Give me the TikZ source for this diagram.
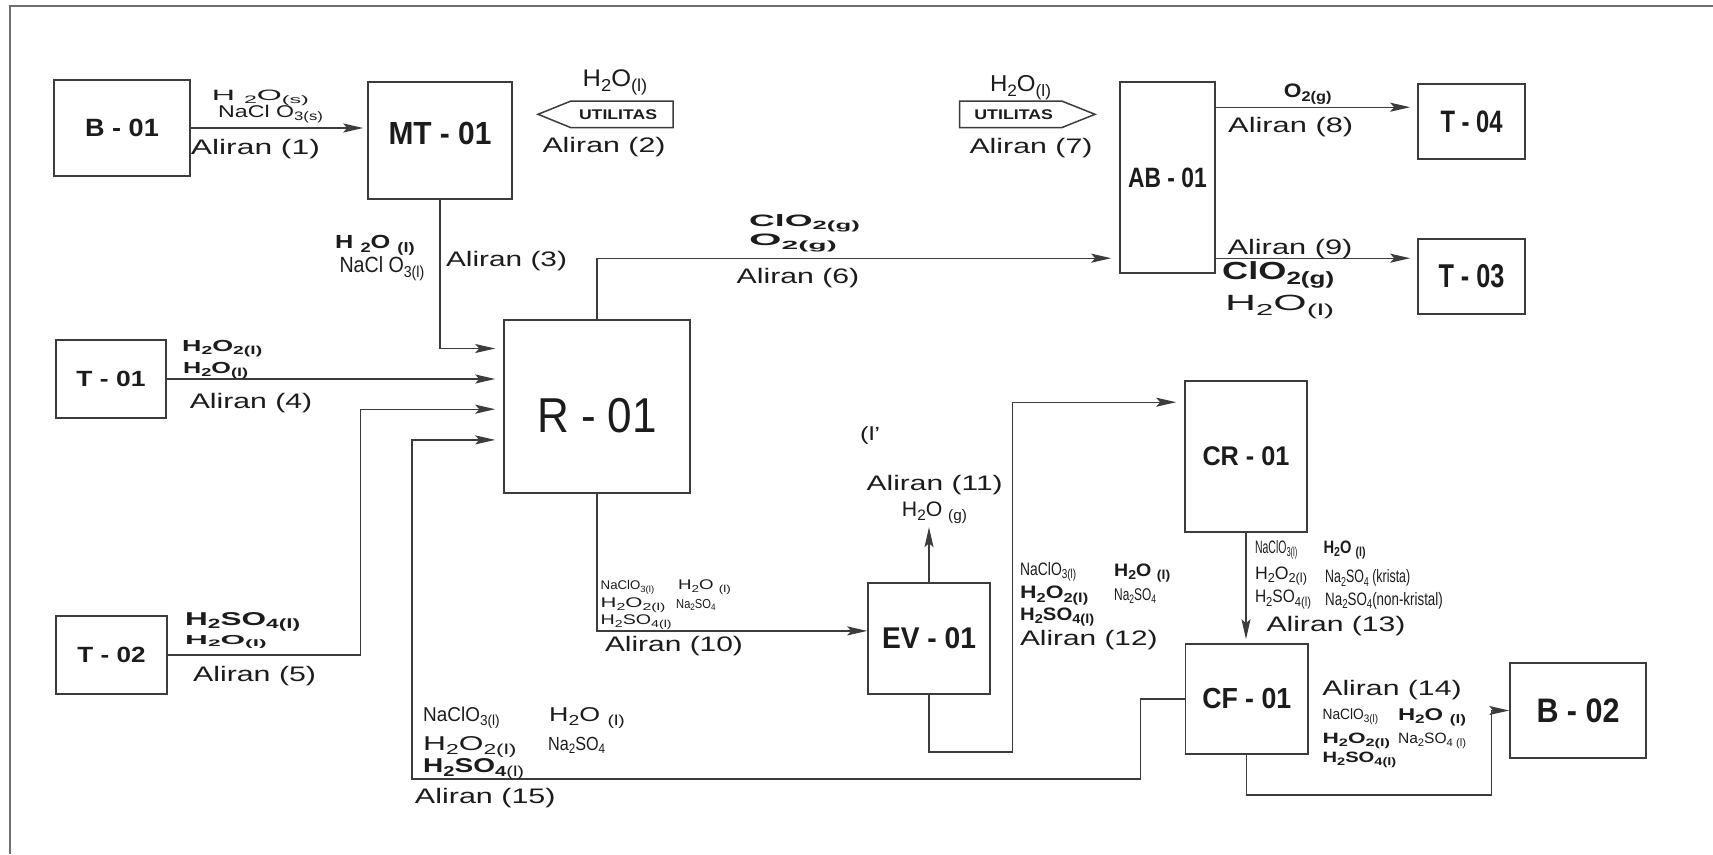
\documentclass[tikz,border=0pt]{standalone}
\usepackage{fontspec}
\setmainfont{Liberation Sans}
\usepackage{graphicx}
\usetikzlibrary{arrows.meta,calc}
\definecolor{ln}{HTML}{3C3C3C}
\definecolor{tx}{HTML}{1C1C1C}
\definecolor{fr}{HTML}{707070}
\newcommand\fsz[1]{\fontsize{#1}{#1}\selectfont}
\newcommand\fw[2]{\resizebox{#1pt}{\height}{#2}}
\newcommand\chsub[1]{\raisebox{-0.2em}{\scalebox{0.72}{#1}}}
\newcommand\lr[3]{\fsz{#1}\fw{#2}{#3}}
\newcommand\lbf[3]{\fsz{#1}\bfseries\fw{#2}{#3}}
\newcommand\alr[2]{\fsz{21}\fw{#2}{Aliran (#1)}}
\begin{document}
\begin{tikzpicture}[x=1pt,y=-1pt,
  every node/.style={text=tx, inner sep=0pt},
  unit/.style={draw=ln, line width=1.6pt, inner sep=0pt, fill=white},
  flow/.style={draw=ln, line width=1.4pt},
  arr/.style={flow, -{Stealth[length=20pt,width=9pt,inset=4pt]}},
  lab/.style={anchor=base west, inner sep=0pt},
  labc/.style={anchor=base, inner sep=0pt}]
\useasboundingbox (0,0) rectangle (1713,854);
\fill[white] (0,0) rectangle (1713,854);
\draw[fr, line width=2pt] (10,854) -- (10,5.5) -- (1713,5.5);

% units
\node[unit, minimum width=136pt, minimum height=96pt] (B01) at (122,128) {\lbf{25}{73.7}{B - 01}};
\node[unit, minimum width=144pt, minimum height=117pt, text depth=15pt] (MT01) at (440,140.5) {\lbf{32}{103}{MT - 01}};
\node[unit, minimum width=186pt, minimum height=173pt, text height=52pt] (R01) at (597,406.5) {\lr{49}{120}{R - 01}};
\node[unit, minimum width=110pt, minimum height=78pt] (T01) at (111,379) {\lbf{22}{69}{T - 01}};
\node[unit, minimum width=111pt, minimum height=78pt] (T02) at (111.5,655) {\lbf{22}{68}{T - 02}};
\node[unit, minimum width=95pt, minimum height=191pt] (AB01) at (1167.5,177.5) {\lbf{28}{78.6}{AB - 01}};
\node[unit, minimum width=107pt, minimum height=75pt] (T04) at (1471.5,121.5) {\lbf{31}{62}{T - 04}};
\node[unit, minimum width=107pt, minimum height=75pt] (T03) at (1471.5,276.5) {\lbf{33}{66}{T - 03}};
\node[unit, minimum width=122pt, minimum height=151pt] (CR01) at (1246,456.5) {\lbf{27}{87}{CR - 01}};
\node[unit, minimum width=122pt, minimum height=111pt] (EV01) at (929,638.5) {\lbf{30}{94}{EV - 01}};
\node[unit, minimum width=122.5pt, minimum height=110pt] (CF01) at (1246.75,699) {\lbf{29}{89}{CF - 01}};
\node[unit, minimum width=136pt, minimum height=95pt] (B02) at (1578,710.5) {\lbf{34}{83}{B - 02}};

% utilitas
\draw[flow, line width=1.5pt, fill=white] (673,101) -- (571,101) -- (538,114.3) -- (571,127.7) -- (673,127.7) -- cycle;
\node (U2) at (618,114.3) {\lbf{14}{78}{UTILITAS}};
\draw[flow, line width=1.5pt, fill=white] (959.5,101) -- (1061.6,101) -- (1095,114.3) -- (1061.6,127.7) -- (959.5,127.7) -- cycle;
\node (U7) at (1013.7,114.3) {\lbf{14}{78.6}{UTILITAS}};

% entry points
\coordinate (R1) at ($(R01.north west)+(0,29.3)$);
\coordinate (R3) at ($(R01.north west)+(0,90)$);
\coordinate (R4) at ($(R01.north west)+(0,120.7)$);
\coordinate (A6) at ($(AB01.south west)+(0,-15.6)$);
\coordinate (A8) at ($(AB01.north east)+(0,26)$);
\coordinate (A9) at ($(AB01.south east)+(0,-15.6)$);
\coordinate (E10) at ($(EV01.north west)+(0,48.7)$);
\coordinate (V11) at ($(EV01.north)+(0,-55)$);
\coordinate (C12) at ($(CR01.north west)+(0,22)$);

% connectors
\draw[arr, shorten >=4pt] (B01.east) -- (B01.east -| MT01.west);
\draw[arr, shorten >=8pt] (MT01.south) |- (R1);
\draw[arr, shorten >=8pt] (T01.east) -- (T01.east -| R01.west);
\draw[arr, shorten >=8pt] (T02.east) -- ++(192.4,0) |- (R3);
\draw[arr, shorten >=8pt] (R01.north) |- (A6);
\draw[arr, shorten >=7pt] (A8) -- (A8 -| T04.west);
\draw[arr, shorten >=7pt] (A9) -- (A9 -| T03.west);
\draw[arr] (R01.south) |- (E10);
\draw[arr] (EV01.north) -- (V11);
\draw[arr, shorten >=8pt] (EV01.south) -- ++(0,57) -| ($(C12)+(-171.5,0)$) -- (C12);
\draw[arr, shorten >=4pt] (CR01.south) -- (CR01.south |- CF01.north);
\draw[arr] (CF01.south) -- ++(0,40) -| ($(B02.west)+(-18,0)$) -- (B02.west);
\draw[arr, shorten >=8pt] (CF01.west) -- ++(-44.5,0) -- ++(0,80) -| ($(R4)+(-91.2,0)$) -- (R4);

% Aliran labels
\node[labc] (a1) at (255.4,154) {\alr{1}{129}};
\node[labc] (a2) at (604,152) {\alr{2}{123}};
\node[labc] (a3) at (506.5,266) {\alr{3}{121}};
\node[labc] (a4) at (251,408.3) {\alr{4}{122.5}};
\node[labc] (a5) at (254.6,681.7) {\alr{5}{123}};
\node[labc] (a6) at (798,283.3) {\alr{6}{122.6}};
\node[labc] (a7) at (1031,153) {\alr{7}{123}};
\node[labc] (a8) at (1290.7,132.7) {\alr{8}{125}};
\node[labc] (a9) at (1290,254) {\alr{9}{125}};
\node[labc] (a10) at (674,651.7) {\alr{10}{138}};
\node[labc] (a11) at (934.7,490) {\alr{11}{136}};
\node[labc] (a12) at (1088.8,645) {\alr{12}{137.6}};
\node[labc] (a13) at (1336,631.7) {\alr{13}{139}};
\node[labc] (a14) at (1392,695) {\alr{14}{139.3}};
\node[labc] (a15) at (485.3,803.3) {\alr{15}{140.6}};

% stream compositions
\node[lab] (c1a) at (211.7,100) {\lr{15}{97}{H \chsub{2}O\chsub{(s)}}};
\node[lab] (c1b) at (218,117.3) {\lr{17}{104.7}{NaCl O\chsub{3(s)}}};
\node[labc] (c2) at (615,86.7) {\lr{24}{64.7}{H\chsub{2}O\chsub{(l)}}};
\node[lab] (c3a) at (335,248.3) {\lbf{19}{79.5}{H \chsub{2}O \chsub{(l)}}};
\node[lab] (c3b) at (339.3,272.7) {\lr{22}{84.8}{NaCl O\chsub{3(l)}}};
\node[lab] (c4a) at (182,351.7) {\lbf{16}{80}{H\chsub{2}O\chsub{2(l)}}};
\node[lab] (c4b) at (183,373.3) {\lbf{16}{65}{H\chsub{2}O\chsub{(l)}}};
\node[lab] (c5a) at (185,625) {\lbf{18.6}{115}{H\chsub{2}SO\chsub{4(l)}}};
\node[lab] (c5b) at (185,644.3) {\lbf{13}{81.5}{H\chsub{2}O\chsub{(l)}}};
\node[lab] (c6a) at (749,226) {\lbf{16.5}{110.6}{ClO\chsub{2(g)}}};
\node[lab] (c6b) at (749,245.7) {\lbf{16.5}{87.6}{O\chsub{2(g)}}};
\node[labc] (c7) at (1020.5,91.7) {\lr{23}{61}{H\chsub{2}O\chsub{(l)}}};
\node[labc] (c8) at (1307.7,97.3) {\lbf{19.5}{47.7}{O\chsub{2(g)}}};
\node[lab] (c9a) at (1222,279.3) {\lbf{24.7}{112}{ClO\chsub{2(g)}}};
\node[lab] (c9b) at (1225,310.7) {\lr{22}{109}{H\chsub{2}O\chsub{(l)}}};

\node[lab] (c10a) at (600.5,589.7) {\lr{12.6}{53.5}{NaClO\chsub{3(l)}}};
\node[lab] (c10b) at (678,589.7) {\lr{14}{52.6}{H\chsub{2}O \chsub{(l)}}};
\node[lab] (c10c) at (600.5,607.3) {\lr{14}{64.8}{H\chsub{2}O\chsub{2(l)}}};
\node[lab] (c10d) at (676,608.3) {\lr{13}{39.3}{Na\chsub{2}SO\chsub{4}}};
\node[lab] (c10e) at (600.5,624.3) {\lr{14}{71}{H\chsub{2}SO\chsub{4(l)}}};

\node[lab] (c11) at (901.7,516.7) {\lr{21}{65}{H\chsub{2}O \chsub{(g)}}};
\node[lab] (c11x) at (860,440.7) {\lr{19}{20}{(l'}};

\node[lab] (c12a) at (1020,575) {\lr{18}{56}{NaClO\chsub{3(l)}}};
\node[lab] (c12b) at (1114,576) {\lbf{18}{56}{H\chsub{2}O \chsub{(l)}}};
\node[lab] (c12c) at (1020,598.5) {\lbf{18}{68}{H\chsub{2}O\chsub{2(l)}}};
\node[lab] (c12d) at (1114,600) {\lr{17}{42}{Na\chsub{2}SO\chsub{4}}};
\node[lab] (c12e) at (1020,620) {\lbf{18}{74}{H\chsub{2}SO\chsub{4(l)}}};

\node[lab] (c13a) at (1254.8,553.3) {\lr{18}{42.4}{NaClO\chsub{3(l)}}};
\node[lab] (c13b) at (1323.4,553.3) {\lbf{18}{42}{H\chsub{2}O \chsub{(l)}}};
\node[lab] (c13c) at (1254.8,579.3) {\lr{18}{52}{H\chsub{2}O\chsub{2(l)}}};
\node[lab] (c13d) at (1325,582.7) {\lr{18}{85}{Na\chsub{2}SO\chsub{4} (krista)}};
\node[lab] (c13e) at (1254.8,602.7) {\lr{18}{56}{H\chsub{2}SO\chsub{4(l)}}};
\node[lab] (c13f) at (1325,605) {\lr{18}{117.6}{Na\chsub{2}SO\chsub{4}(non-kristal)}};

\node[lab] (c14a) at (1322.4,719.3) {\lr{15}{55.6}{NaClO\chsub{3(l)}}};
\node[lab] (c14b) at (1397.8,720) {\lbf{17}{68}{H\chsub{2}O \chsub{(l)}}};
\node[lab] (c14c) at (1322.4,743.3) {\lbf{15}{67.5}{H\chsub{2}O\chsub{2(l)}}};
\node[lab] (c14d) at (1397.8,743.3) {\lr{15}{68}{Na\chsub{2}SO\chsub{4 (l)}}};
\node[lab] (c14e) at (1322.4,762.5) {\lbf{15}{73.6}{H\chsub{2}SO\chsub{4(l)}}};

\node[lab] (c15a) at (423,721.7) {\lr{20}{76.5}{NaClO\chsub{3(l)}}};
\node[lab] (c15b) at (549,721.7) {\lr{20}{75.5}{H\chsub{2}O \chsub{(l)}}};
\node[lab] (c15c) at (423,750) {\lr{20}{93.3}{H\chsub{2}O\chsub{2(l)}}};
\node[lab] (c15d) at (548,750) {\lr{19}{57}{Na\chsub{2}SO\chsub{4}}};
\node[lab] (c15e) at (423,772.5) {\fsz{20}\fw{101}{\textbf{H\chsub{2}SO\chsub{4}}\chsub{(l)}}};
\end{tikzpicture}
\end{document}
